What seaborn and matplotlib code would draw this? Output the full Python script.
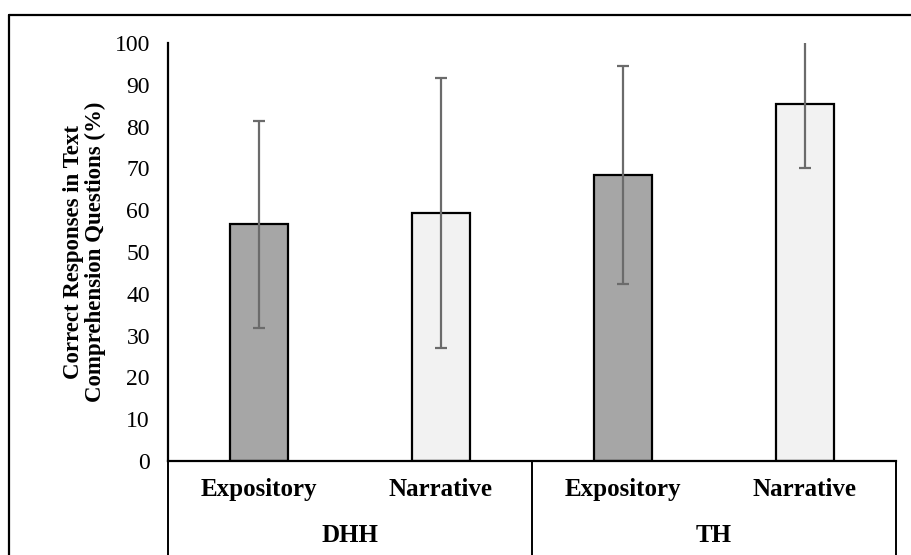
import matplotlib
matplotlib.use("Agg")
import matplotlib.pyplot as plt
from matplotlib.lines import Line2D
import seaborn as sns
import pandas as pd

groups = ["DHH", "DHH", "TH", "TH"]
text_types = ["Expository", "Narrative", "Expository", "Narrative"]
means = [56.6, 59.3, 68.4, 85.4]
sds = [24.8, 32.3, 26.1, 15.2]
group_names = ["DHH", "TH"]
y_ticks = list(range(0, 101, 10))
y_label = "Correct Responses in Text\nComprehension Questions (%)"

sns.set_theme(style="white")
plt.rcParams["font.family"] = ["Liberation Serif", "DejaVu Serif"]
plt.rcParams["text.color"] = "black"
plt.rcParams["axes.labelcolor"] = "black"
plt.rcParams["xtick.color"] = "black"
plt.rcParams["ytick.color"] = "black"

W, H = 912, 555
fig = plt.figure(figsize=(W / 100, H / 100), dpi=100)
ax = fig.add_axes([168 / W, 1 - 461 / H, (896 - 168) / W, (461 - 43) / H])

df = pd.DataFrame({"key": [f"{g} {t}" for g, t in zip(groups, text_types)],
                   "type": text_types, "mean": means})
palette = {"Expository": "#A6A6A6", "Narrative": "#F2F2F2"}
sns.barplot(data=df, x="key", y="mean", hue="type", palette=palette,
            dodge=False, width=0.32, edgecolor="black", linewidth=1.6,
            errorbar=None, legend=False, ax=ax)
ax.errorbar(range(len(means)), means, yerr=sds, fmt="none",
            ecolor="#6B6B6B", elinewidth=1.6, capsize=4.3, capthick=1.6,
            clip_on=True, zorder=3)

ax.set_xlim(-0.5, 3.5)
ax.set_ylim(0, 100)
ax.set_yticks(y_ticks)
ax.set_yticklabels([str(v) for v in y_ticks], fontsize=17)
ax.tick_params(axis="y", length=0, pad=13)
ax.set_xticks(range(len(means)))
ax.set_xticklabels(text_types, fontsize=18, fontweight="bold")
ax.tick_params(axis="x", length=0, pad=12)
ax.set_xlabel("")
ax.set_ylabel(y_label, fontsize=16.5, fontweight="bold", linespacing=1.05,
              labelpad=6)
for s in ["top", "right"]:
    ax.spines[s].set_visible(False)
ax.spines["left"].set_linewidth(1.6)
ax.spines["left"].set_color("black")
ax.spines["bottom"].set_linewidth(1.6)
ax.spines["bottom"].set_color("black")

# multi-level category axis
trans = ax.get_xaxis_transform()
for xd in [-0.5, 1.5, 3.5]:
    ax.plot([xd, xd], [0, -94 / 418], transform=trans, color="black",
            lw=1.4, clip_on=False)
for i, g in enumerate(group_names):
    ax.text(2 * i + 0.5, -74 / 418, g, transform=trans, ha="center",
            va="center", fontsize=18, fontweight="bold")

# outer chart frame
fig.add_artist(Line2D([9 / W, 9 / W], [0, 1 - 15 / H], color="black", lw=1.6))
fig.add_artist(Line2D([9 / W, 1], [1 - 15 / H, 1 - 15 / H], color="black", lw=1.6))

fig.savefig("out.png", dpi=100, facecolor="white")
